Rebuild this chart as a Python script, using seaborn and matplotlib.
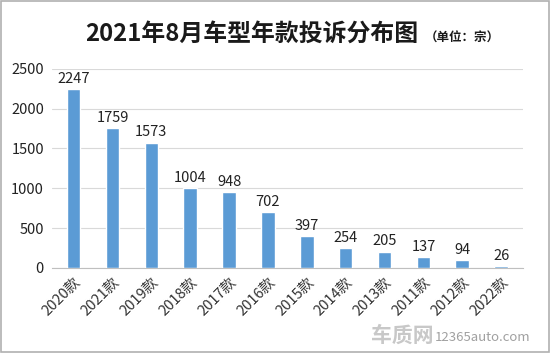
import matplotlib
matplotlib.use('Agg')
import matplotlib.pyplot as plt
import seaborn as sns
import pandas as pd

# chart data
years = ['2020款', '2021款', '2019款', '2018款', '2017款', '2016款',
         '2015款', '2014款', '2013款', '2011款', '2012款', '2022款']
complaints = [2247, 1759, 1573, 1004, 948, 702, 397, 254, 205, 137, 94, 26]
y_ticks = [0, 500, 1000, 1500, 2000, 2500]

sns.set_style('white')
plt.rcParams['font.family'] = ['Noto Sans CJK SC', 'DejaVu Sans']

df = pd.DataFrame({'year': years, 'count': complaints})

fig = plt.figure(figsize=(5.5, 3.53), dpi=100)
ax = fig.add_axes([0.095, 0.241, 0.855, 0.564])

sns.barplot(data=df, x='year', y='count', color='#5B9BD5', width=0.35,
            saturation=1, ax=ax, zorder=3)

for i, v in enumerate(complaints):
    ax.text(i, v + 40, str(v), ha='center', va='bottom', fontsize=10.5, color='#222222')

ax.set_ylim(0, 2500)
ax.set_yticks(y_ticks)
ax.set_yticklabels([str(t) for t in y_ticks], fontsize=10.5, color='#222222')
ax.set_xlim(-0.55, len(years) - 0.45)
ax.tick_params(axis='x', rotation=45, labelsize=10.5, colors='#333333', length=0, pad=5)
for lbl in ax.get_xticklabels():
    lbl.set_ha('right')
    lbl.set_rotation_mode('anchor')
ax.tick_params(axis='y', length=0, pad=6)
ax.grid(axis='y', color='#d9d9d9', linewidth=0.8, zorder=0)
ax.set_xlabel('')
ax.set_ylabel('')
for side in ['left', 'right', 'top']:
    ax.spines[side].set_visible(False)
ax.spines['bottom'].set_color('#bfbfbf')

fig.text(0.458, 0.905, '2021年8月车型年款投诉分布图', ha='center', va='center',
         fontsize=17.2, fontweight='bold', color='#1a1a1a')
fig.text(0.772, 0.893, '（单位：宗）', ha='left', va='center', fontsize=9,
         fontweight='bold', color='#1a1a1a')

# watermark
fig.text(0.675, 0.05, '车质网', ha='left', va='center', fontsize=15,
         fontweight='bold', color='#c8c8c8')
fig.text(0.79, 0.045, '12365auto.com', ha='left', va='center', fontsize=9.5, color='#a0a0a0')

# gray frame round the picture
fig.patches.append(plt.Rectangle((0.002, 0.003), 0.996, 0.994, transform=fig.transFigure,
                                 fill=False, edgecolor='#b0b0b0', linewidth=1.2))

fig.savefig('out.png', dpi=100)
